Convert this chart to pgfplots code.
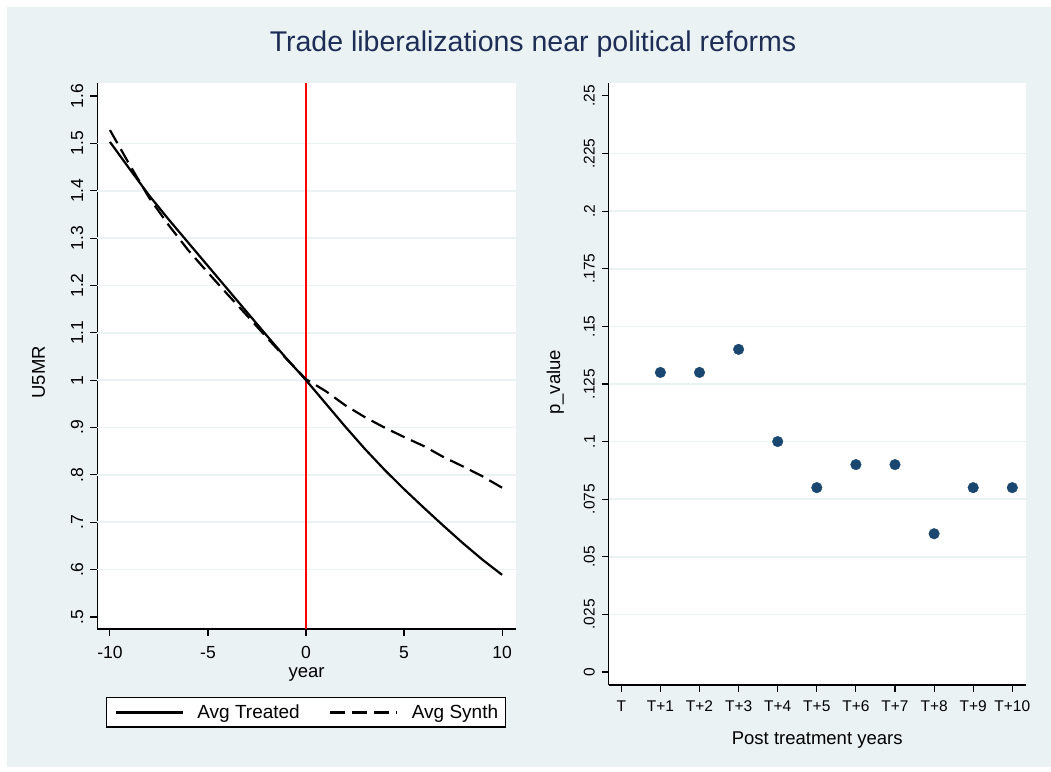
\documentclass[border=0pt]{standalone}
\usepackage{fontspec}
\setmainfont{Liberation Sans}
\usepackage{pgfplots}
\pgfplotsset{compat=1.18}

\definecolor{stbg}{RGB}{234,242,243}
\definecolor{stnavy}{RGB}{26,71,111}
\definecolor{sttitle}{RGB}{30,45,85}

\pgfplotsset{
  stata/.style={
    scale only axis,
    anchor=south west,
    axis lines*=left,
    axis line style={black, line width=1.3pt},
    axis background/.style={fill=white},
    tick align=outside,
    major tick length=7pt,
    tick style={black, line width=1.1pt},
    major grid style={stbg, line width=1.6pt},
    extra y tick style={grid=major, major tick length=0pt},
    extra y tick labels={},
    yticklabel style={rotate=90, anchor=south, inner sep=0pt},
    xticklabel style={anchor=north, inner sep=0pt},
    label style={font=\fontsize{18.5}{21}\selectfont, inner sep=0pt},
  },
}

\begin{document}
\begin{tikzpicture}
\path[use as bounding box, fill=white] (0pt,0pt) rectangle (1051pt,771pt);
\fill[stbg] (7pt,4pt) rectangle (1051pt,764pt);

\node[font=\fontsize{28.5}{32}\selectfont, text=sttitle, anchor=base]
  at (533pt,719.3pt) {Trade liberalizations near political reforms};

% left panel: U5MR, treated vs synthetic
\begin{axis}[stata,
  at={(97.4pt,142pt)}, width=418.2pt, height=546pt,
  xmin=-10.64, xmax=10.69, ymin=0.4747, ymax=1.6274,
  xtick={-10,-5,0,5,10}, xticklabels={-10,-5,0,5,10},
  ytick={0.5,0.6,0.7,0.8,0.9,1,1.1,1.2,1.3,1.4,1.5,1.6},
  yticklabels={.5,.6,.7,.8,.9,1,1.1,1.2,1.3,1.4,1.5,1.6},
  extra y ticks={0.6,0.7,0.8,0.9,1,1.1,1.2,1.3,1.4,1.5},
  ticklabel style={font=\fontsize{17.5}{20}\selectfont},
  xticklabel shift=10.5pt, yticklabel shift=7pt,
  xlabel={year}, ylabel={U5MR},
  xlabel style={at={(axis description cs:0.5,-0.0897)}, anchor=base},
  ylabel style={at={(axis description cs:-0.1253,0.47)}, anchor=base},
  legend columns=2, legend cell align=left,
  legend image code/.code={\draw[#1] (0pt,0pt) -- (67pt,0pt);},
  legend image post style={line width=2.6pt},
  legend style={at={(axis description cs:0.4993,-0.1529)}, anchor=center,
    draw=black, fill=white,
    font=\fontsize{19}{22}\selectfont,
    inner xsep=7.5pt, inner ysep=7pt,
    nodes={inner sep=0pt},
    /tikz/every odd column/.append style={column sep=13.5pt},
    /tikz/every even column/.append style={column sep=29pt}},
  every axis legend/.append style={line width=1.3pt},
]
\addplot[red, line width=1.8pt, forget plot] coordinates {(0,0.4747) (0,1.6274)};
\addplot[black, line width=2.2pt] coordinates {
  (-10,1.503) (-9,1.446) (-8,1.390) (-7,1.339) (-6,1.290) (-5,1.241)
  (-4,1.192) (-3,1.143) (-2,1.094) (-1,1.046) (0,1.000)
  (1,0.951) (2,0.902) (3,0.855) (4,0.811) (5,0.770) (6,0.731)
  (7,0.693) (8,0.656) (9,0.621) (10,0.589)};
\addlegendentry{Avg Treated}
\addplot[black, line width=2.2pt, dash pattern=on 15pt off 7pt] coordinates {
  (-10,1.528) (-9,1.455) (-8,1.385) (-7,1.327) (-6,1.274) (-5,1.227)
  (-4,1.181) (-3,1.136) (-2,1.090) (-1,1.045) (0,1.002)
  (1,0.977) (2,0.947) (3,0.922) (4,0.900) (5,0.880) (6,0.861)
  (7,0.838) (8,0.818) (9,0.797) (10,0.773)};
\addlegendentry{Avg Synth}
\end{axis}

% right panel: p-values
\begin{axis}[stata,
  at={(608.7pt,86pt)}, width=417pt, height=602pt,
  xmin=-0.322, xmax=10.343, ymin=-0.00564, ymax=0.2556,
  xtick={0,1,2,3,4,5,6,7,8,9,10},
  xticklabels={T,T+1,T+2,T+3,T+4,T+5,T+6,T+7,T+8,T+9,T+10},
  ytick={0,0.025,0.05,0.075,0.1,0.125,0.15,0.175,0.2,0.225,0.25},
  yticklabels={0,.025,.05,.075,.1,.125,.15,.175,.2,.225,.25},
  extra y ticks={0.025,0.05,0.075,0.1,0.125,0.15,0.175,0.2,0.225},
  ticklabel style={font=\fontsize{15.5}{18}\selectfont},
  xticklabel shift=8.7pt, yticklabel shift=6.7pt,
  xlabel={Post treatment years}, ylabel={p\_value},
  xlabel style={at={(axis description cs:0.5,-0.098)}, anchor=base},
  ylabel style={at={(axis description cs:-0.1168,0.503)}, anchor=base},
]
\addplot[only marks, mark=*, mark size=5.3pt, color=stnavy,
  mark options={fill=stnavy, draw=stnavy}] coordinates {
  (1,0.13) (2,0.13) (3,0.14) (4,0.10) (5,0.08)
  (6,0.09) (7,0.09) (8,0.06) (9,0.08) (10,0.08)};
\end{axis}
\end{tikzpicture}
\end{document}
